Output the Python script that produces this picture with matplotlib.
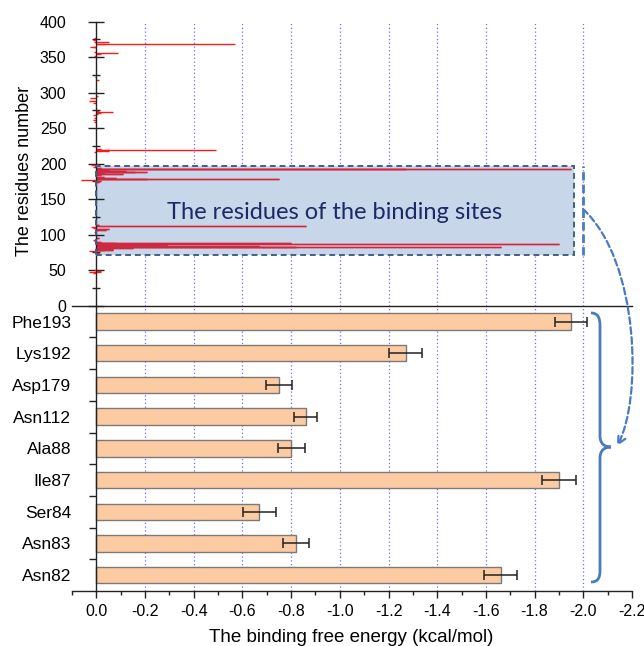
import matplotlib
matplotlib.use('Agg')
import matplotlib.pyplot as plt
import numpy as np
from matplotlib.patches import Rectangle, FancyArrowPatch, PathPatch
from matplotlib.path import Path
from matplotlib.ticker import FixedLocator, MultipleLocator

plt.rcParams['font.family'] = ['Liberation Sans', 'DejaVu Sans']

# ---------------- data ----------------
# per-residue decomposition (top panel): residue number and energy (kcal/mol)
residues = [46, 47, 48, 49, 50,
            74, 75, 77, 78, 79, 80, 81, 82, 83, 84, 85, 86, 87, 88, 89, 90, 91, 93, 95,
            100, 104, 107, 108, 110, 111, 112, 113,
            174, 176, 177, 178, 179, 180, 181, 184, 186, 187, 188, 189, 190, 191, 192, 193,
            194, 195, 198, 199,
            216, 218, 219, 220, 221,
            259, 262, 265, 268, 270, 272, 273, 274,
            286, 289, 292, 296, 318, 322,
            352, 354, 356, 358, 364, 365, 368, 369, 371, 372, 374, 377]
energies = [0.012, -0.02, 0.03, -0.02, 0.01,
            -0.01, 0.01, 0.03, -0.07, -0.03, -0.07, -0.15, -1.66, -0.82, -0.67, -0.29, -0.15,
            -1.90, -0.80, -0.08, -0.02, 0.01, 0.014, -0.01,
            0.005, 0.01, -0.04, -0.05, 0.015, 0.02, -0.86, -0.01,
            -0.01, -0.02, 0.062, -0.21, -0.75, -0.08, -0.03, -0.02, -0.11, -0.03, -0.16, -0.21,
            -0.12, -0.05, -1.27, -1.95,
            -0.02, 0.015, 0.02, -0.005,
            0.01, -0.05, -0.05, -0.49, -0.02,
            0.01, 0.015, 0.01, 0.012, -0.005, -0.02, -0.07, -0.01,
            0.015, 0.03, 0.025, -0.005, -0.01, 0.005,
            0.01, -0.02, -0.09, 0.01, 0.012, 0.025, -0.03, -0.57, -0.05, 0.01, 0.015, 0.01]

# key residues (bottom panel), top to bottom
key_residues = ['Phe193', 'Lys192', 'Asp179', 'Asn112', 'Ala88', 'Ile87', 'Ser84', 'Asn83', 'Asn82']
key_energy = [-1.95, -1.27, -0.75, -0.86, -0.80, -1.90, -0.67, -0.82, -1.66]
key_error = [0.065, 0.068, 0.055, 0.048, 0.055, 0.070, 0.068, 0.052, 0.067]

x_ticks = [0.0, -0.2, -0.4, -0.6, -0.8, -1.0, -1.2, -1.4, -1.6, -1.8, -2.0, -2.2]
x_tick_labels = ['0.0', '-0.2', '-0.4', '-0.6', '-0.8', '-1.0', '-1.2', '-1.4', '-1.6',
                 '-1.8', '-2.0', '-2.2']
y_ticks_top = [0, 50, 100, 150, 200, 250, 300, 350, 400]
binding_site_range = (71, 197)
binding_site_energy_extent = -1.96

# ---------------- figure ----------------
W, H = 644, 646
fig = plt.figure(figsize=(W / 100, H / 100), dpi=100)


def fx(px):
    return px / W


def fy(py):
    return 1 - py / H


ax_top = fig.add_axes([fx(72), fy(305.7), fx(632) - fx(72), fy(21.7) - fy(305.7)])
ax_bot = fig.add_axes([fx(72), fy(591), fx(632) - fx(72), fy(305.7) - fy(591)])

grid_color = '#6F6FFF'
anno_blue = '#4A7BC0'

for ax in (ax_top, ax_bot):
    ax.set_xlim(0.1, -2.2)
    ax.patch.set_alpha(0)
    for s in ('top', 'right'):
        ax.spines[s].set_visible(False)
    ax.spines['left'].set_position(('data', 0))
    for s in ('left', 'bottom'):
        ax.spines[s].set_linewidth(1.0)
        ax.spines[s].set_color('#222222')
    for t in x_ticks[1:-1]:
        ax.axvline(t, color=grid_color, ls=(0, (1, 2)), lw=0.9, zorder=0.5)

# ---- top panel ----
ax_top.set_ylim(0, 400)
ax_top.set_xticks([])
ax_top.yaxis.set_major_locator(FixedLocator(y_ticks_top))
ax_top.yaxis.set_minor_locator(MultipleLocator(25))
ax_top.tick_params(axis='y', which='major', direction='inout', length=11.5, width=1,
                   pad=15.8, labelsize=11.5, color='#222222')
ax_top.tick_params(axis='y', which='minor', direction='inout', length=5.8, width=1,
                   color='#222222')
ax_top.set_ylabel('The residues number', fontsize=13)
ax_top.yaxis.set_label_coords(-0.07, 0.474)

ax_top.hlines(residues, 0, energies, colors='#FF1A1A', lw=1.0, zorder=2)

box = Rectangle((0, binding_site_range[0]), binding_site_energy_extent,
                binding_site_range[1] - binding_site_range[0],
                facecolor='#C8D6EA', edgecolor='none', zorder=1)
ax_top.add_patch(box)
inner = ax_top.hlines(residues, 0, energies, colors='#CC2A42', lw=1.0, zorder=2.1)
inner.set_clip_path(box)
ax_top.add_patch(Rectangle((0, binding_site_range[0]), binding_site_energy_extent,
                           binding_site_range[1] - binding_site_range[0],
                           fill=False, edgecolor='#40608A', ls=(0, (3, 2)), lw=1.4, zorder=3))
ax_top.text(binding_site_energy_extent / 2, 131, 'The residues of the binding sites',
            fontsize=17, family=['Lato', 'DejaVu Sans'], color='#1B2A66',
            ha='center', va='center', zorder=4)
ax_top.vlines(x_ticks[10], binding_site_range[0], binding_site_range[1],
              colors=anno_blue, linestyles=(0, (3, 1.5)), lw=2, zorder=3)

# ---- bottom panel ----
n = len(key_residues)
ypos = np.arange(n)[::-1]
ax_bot.set_ylim(-0.5, n - 0.5)
ax_bot.barh(ypos, key_energy, height=0.52, color='#FDCBA2', edgecolor='#7A7A7A', lw=1,
            xerr=key_error, zorder=2,
            error_kw=dict(ecolor='#222222', elinewidth=1.1, capsize=3.5, capthick=1.1))
ax_bot.set_yticks(ypos)
ax_bot.set_yticklabels(key_residues)
ax_bot.yaxis.set_minor_locator(FixedLocator(np.arange(n - 1) + 0.5))
ax_bot.tick_params(axis='y', which='major', length=0, pad=18, labelsize=12.5)
ax_bot.tick_params(axis='y', which='minor', direction='out', length=5, width=1,
                   color='#222222')
ax_bot.xaxis.set_major_locator(FixedLocator(x_ticks))
ax_bot.set_xticklabels(x_tick_labels)
ax_bot.xaxis.set_minor_locator(MultipleLocator(0.1))
ax_bot.tick_params(axis='x', which='major', direction='out', length=5, width=1, pad=4,
                   labelsize=11.5, color='#222222')
ax_bot.tick_params(axis='x', which='minor', direction='out', length=3, width=1,
                   color='#222222')
ax_bot.set_xlabel('The binding free energy (kcal/mol)', fontsize=13.5)
ax_bot.xaxis.set_label_coords(0.498, -0.133)

# ---- annotations: curved arrow and brace (figure pixel coordinates) ----
def P(x, y):
    return (fx(x), fy(y))


arrow_path = Path([P(583, 209), P(640, 262), P(642, 400), P(617, 446)],
                  [Path.MOVETO, Path.CURVE4, Path.CURVE4, Path.CURVE4])
arrow = FancyArrowPatch(path=arrow_path, arrowstyle='->', mutation_scale=14,
                        linestyle=(0, (3, 1.5)), lw=1.6, color=anno_blue,
                        transform=fig.transFigure, shrinkA=0, shrinkB=0)
fig.add_artist(arrow)

brace_verts = [P(591, 313), P(598, 313), P(600, 318), P(600, 326),
               P(600, 436),
               P(600, 444), P(605, 447), P(611, 447),
               P(605, 447), P(600, 450), P(600, 458),
               P(600, 570),
               P(600, 578), P(598, 582), P(591, 582)]
brace_codes = [Path.MOVETO, Path.CURVE4, Path.CURVE4, Path.CURVE4,
               Path.LINETO,
               Path.CURVE4, Path.CURVE4, Path.CURVE4,
               Path.CURVE4, Path.CURVE4, Path.CURVE4,
               Path.LINETO,
               Path.CURVE4, Path.CURVE4, Path.CURVE4]
fig.add_artist(PathPatch(Path(brace_verts, brace_codes), fill=False, edgecolor=anno_blue,
                         lw=2, transform=fig.transFigure))

fig.savefig('out.png', dpi=100, facecolor='white')
